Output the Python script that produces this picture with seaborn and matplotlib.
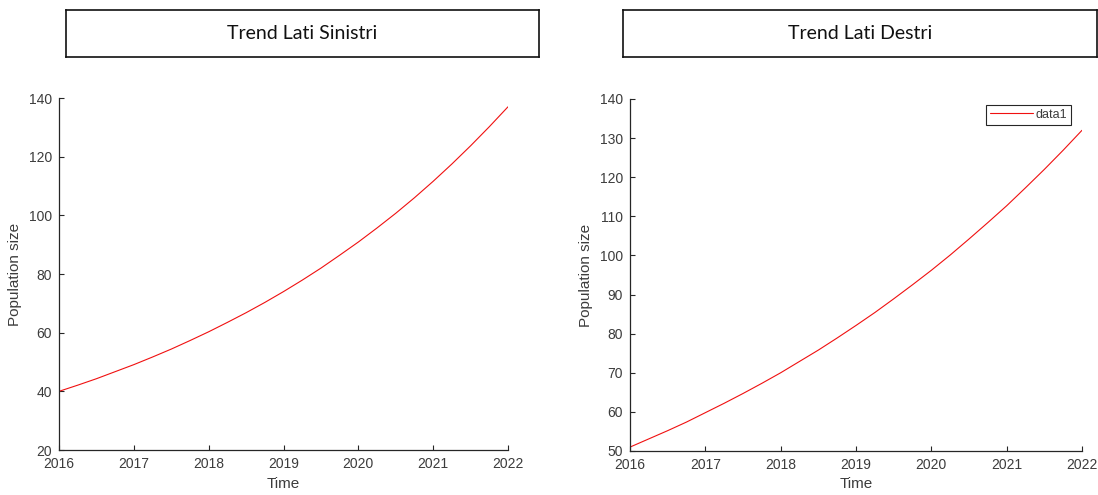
import numpy as np
import pandas as pd
import matplotlib
matplotlib.use("Agg")
import matplotlib.pyplot as plt
import seaborn as sns

# ---- data (quarter-year steps) ----
time = [2016.0, 2016.25, 2016.5, 2016.75, 2017.0, 2017.25, 2017.5, 2017.75,
        2018.0, 2018.25, 2018.5, 2018.75, 2019.0, 2019.25, 2019.5, 2019.75,
        2020.0, 2020.25, 2020.5, 2020.75, 2021.0, 2021.25, 2021.5, 2021.75,
        2022.0]
left_pop = [40.0, 42.1, 44.3, 46.7, 49.1, 51.7, 54.4, 57.3,
            60.3, 63.5, 66.8, 70.3, 74.0, 77.9, 82.0, 86.4,
            90.9, 95.7, 100.7, 106.0, 111.6, 117.5, 123.7, 130.2,
            137.0]
right_pop = [51.0, 53.1, 55.2, 57.4, 59.8, 62.2, 64.7, 67.3,
             70.0, 72.9, 75.8, 78.9, 82.1, 85.4, 88.9, 92.5,
             96.2, 100.1, 104.2, 108.4, 112.7, 117.3, 122.0, 126.9,
             132.0]
x_ticks = [2016, 2017, 2018, 2019, 2020, 2021, 2022]
left_yticks = [20, 40, 60, 80, 100, 120, 140]
right_yticks = [50, 60, 70, 80, 90, 100, 110, 120, 130, 140]
titles = ["Trend Lati Sinistri", "Trend Lati Destri"]
series_label = "data1"

sns.set_theme(style="white")
plt.rcParams["font.family"] = ["Liberation Sans", "DejaVu Sans"]

W, H = 1098, 495
fig = plt.figure(figsize=(W / 100, H / 100), dpi=100)

AX_COL = "#262626"
TXT_COL = "#3c3c3c"
LINE_COL = "#f01010"


def fx(px):
    return px / W


def fy(py):
    return 1 - py / H


def style_axes(ax, yticks):
    for s in ["top", "right"]:
        ax.spines[s].set_visible(False)
    for s in ["left", "bottom"]:
        ax.spines[s].set_color(AX_COL)
        ax.spines[s].set_linewidth(0.9)
    ax.set_xlim(2016, 2022)
    ax.set_ylim(yticks[0], yticks[-1])
    ax.set_xticks(x_ticks)
    ax.set_xticklabels([str(t) for t in x_ticks])
    ax.set_yticks(yticks)
    ax.set_yticklabels([str(t) for t in yticks])
    ax.tick_params(axis="both", direction="in", length=3.5, width=0.8,
                   color=AX_COL, labelcolor=TXT_COL, labelsize=10, pad=5)
    ax.tick_params(axis="x", bottom=True, top=False)
    ax.tick_params(axis="y", left=True, right=False)
    ax.set_xlabel("Time", fontsize=11, color=TXT_COL, labelpad=4)
    ax.set_ylabel("Population size", fontsize=11, color=TXT_COL, labelpad=5)
    ax.grid(False)
    ax.set_facecolor("white")


# ---- axes ----
ax_l = fig.add_axes([fx(59), fy(450), fx(508 - 59), (450 - 98) / H])
ax_r = fig.add_axes([fx(630), fy(451), fx(1082 - 630), (451 - 99) / H])

df_l = pd.DataFrame({"Time": time, "Population size": left_pop})
df_r = pd.DataFrame({"Time": time, "Population size": right_pop})

sns.lineplot(data=df_l, x="Time", y="Population size", ax=ax_l,
             color=LINE_COL, linewidth=0.8, legend=False)
sns.lineplot(data=df_r, x="Time", y="Population size", ax=ax_r,
             color=LINE_COL, linewidth=0.8, label=series_label)

style_axes(ax_l, left_yticks)
style_axes(ax_r, right_yticks)

leg = ax_r.legend(loc="upper right", bbox_to_anchor=(fx(1071), fy(105)),
                  bbox_transform=fig.transFigure, borderaxespad=0,
                  fancybox=False, framealpha=1, edgecolor="#262626",
                  fontsize=9, handlelength=3.4, handletextpad=0.25,
                  borderpad=0.3)
leg.get_frame().set_linewidth(0.8)
for t in leg.get_texts():
    t.set_color(TXT_COL)

# ---- title boxes ----
for (x0, x1), title in zip([(66, 539), (623, 1097)], titles):
    tax = fig.add_axes([fx(x0), fy(57), fx(x1 - x0), (57 - 9.5) / H])
    tax.set_xticks([])
    tax.set_yticks([])
    for s in tax.spines.values():
        s.set_visible(True)
        s.set_color("#111111")
        s.set_linewidth(1.2)
    tax.set_facecolor("white")
    tax.text(0.5, 0.5, title, ha="center", va="center", fontsize=14,
             family=["Lato", "DejaVu Sans"], color="#111111",
             transform=tax.transAxes)

fig.savefig("out.png", dpi=100, facecolor="white")
